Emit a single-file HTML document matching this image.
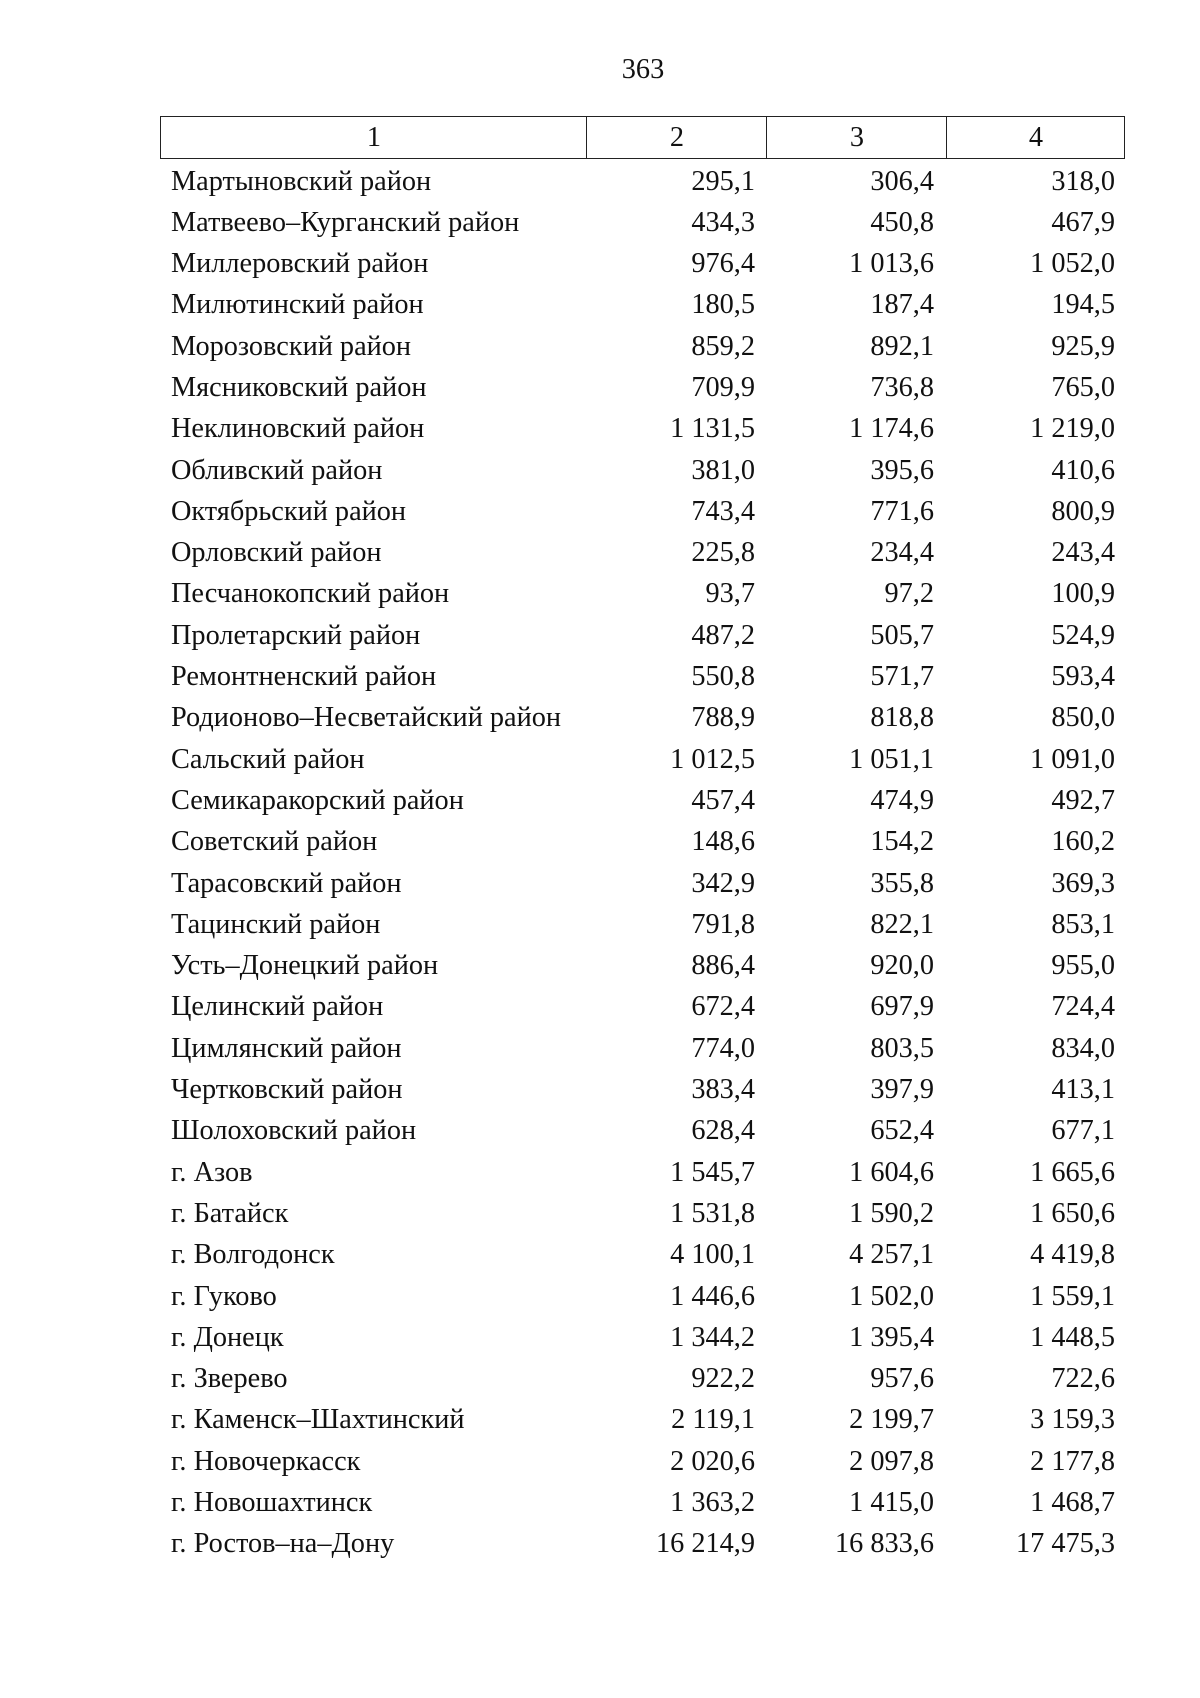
<!DOCTYPE html>
<html>
<head>
<meta charset="utf-8">
<style>
  html, body { margin: 0; padding: 0; background: #fff; }
  body { width: 1200px; height: 1698px; position: relative; overflow: hidden;
         font-family: "Liberation Serif", "Noto Serif CJK SC", serif; font-size: 28.3px; color: #111; }
  .pn { position: absolute; left: 543px; width: 200px; text-align: center; top: 49px; height: 41.33px; line-height: 41.33px; }
  .hdr { position: absolute; top: 116px; left: 160px; width: 965px; height: 43px; border: 1px solid #222; box-sizing: border-box; }
  .hc { position: absolute; top: 0; height: 41px; line-height: 42px; text-align: center; }
  .vl { position: absolute; top: 0; width: 1px; height: 41px; background: #222; }
  .rows { position: absolute; top: 160.5px; left: 0; width: 1200px; }
  .r { position: relative; height: 41.3px; line-height: 41.3px; white-space: pre; }
  .r span { position: absolute; top: 0; }
  .n { left: 171px; }
  .a { right: 445px; }
  .b { right: 266px; }
  .c { right: 85px; }
</style>
</head>
<body>
<div class="pn">363</div>
<div class="hdr">
  <div class="hc" style="left:0;width:426px;">1</div>
  <div class="vl" style="left:425px;"></div>
  <div class="hc" style="left:426px;width:180px;">2</div>
  <div class="vl" style="left:605px;"></div>
  <div class="hc" style="left:606px;width:180px;">3</div>
  <div class="vl" style="left:785px;"></div>
  <div class="hc" style="left:786px;width:178px;">4</div>
</div>
<div class="rows">
<div class="r"><span class="n">Мартыновский район</span><span class="a">295,1</span><span class="b">306,4</span><span class="c">318,0</span></div>
<div class="r"><span class="n">Матвеево–Курганский район</span><span class="a">434,3</span><span class="b">450,8</span><span class="c">467,9</span></div>
<div class="r"><span class="n">Миллеровский район</span><span class="a">976,4</span><span class="b">1 013,6</span><span class="c">1 052,0</span></div>
<div class="r"><span class="n">Милютинский район</span><span class="a">180,5</span><span class="b">187,4</span><span class="c">194,5</span></div>
<div class="r"><span class="n">Морозовский район</span><span class="a">859,2</span><span class="b">892,1</span><span class="c">925,9</span></div>
<div class="r"><span class="n">Мясниковский район</span><span class="a">709,9</span><span class="b">736,8</span><span class="c">765,0</span></div>
<div class="r"><span class="n">Неклиновский район</span><span class="a">1 131,5</span><span class="b">1 174,6</span><span class="c">1 219,0</span></div>
<div class="r"><span class="n">Обливский район</span><span class="a">381,0</span><span class="b">395,6</span><span class="c">410,6</span></div>
<div class="r"><span class="n">Октябрьский район</span><span class="a">743,4</span><span class="b">771,6</span><span class="c">800,9</span></div>
<div class="r"><span class="n">Орловский район</span><span class="a">225,8</span><span class="b">234,4</span><span class="c">243,4</span></div>
<div class="r"><span class="n">Песчанокопский район</span><span class="a">93,7</span><span class="b">97,2</span><span class="c">100,9</span></div>
<div class="r"><span class="n">Пролетарский район</span><span class="a">487,2</span><span class="b">505,7</span><span class="c">524,9</span></div>
<div class="r"><span class="n">Ремонтненский район</span><span class="a">550,8</span><span class="b">571,7</span><span class="c">593,4</span></div>
<div class="r"><span class="n">Родионово–Несветайский район</span><span class="a">788,9</span><span class="b">818,8</span><span class="c">850,0</span></div>
<div class="r"><span class="n">Сальский район</span><span class="a">1 012,5</span><span class="b">1 051,1</span><span class="c">1 091,0</span></div>
<div class="r"><span class="n">Семикаракорский район</span><span class="a">457,4</span><span class="b">474,9</span><span class="c">492,7</span></div>
<div class="r"><span class="n">Советский район</span><span class="a">148,6</span><span class="b">154,2</span><span class="c">160,2</span></div>
<div class="r"><span class="n">Тарасовский район</span><span class="a">342,9</span><span class="b">355,8</span><span class="c">369,3</span></div>
<div class="r"><span class="n">Тацинский район</span><span class="a">791,8</span><span class="b">822,1</span><span class="c">853,1</span></div>
<div class="r"><span class="n">Усть–Донецкий район</span><span class="a">886,4</span><span class="b">920,0</span><span class="c">955,0</span></div>
<div class="r"><span class="n">Целинский район</span><span class="a">672,4</span><span class="b">697,9</span><span class="c">724,4</span></div>
<div class="r"><span class="n">Цимлянский район</span><span class="a">774,0</span><span class="b">803,5</span><span class="c">834,0</span></div>
<div class="r"><span class="n">Чертковский район</span><span class="a">383,4</span><span class="b">397,9</span><span class="c">413,1</span></div>
<div class="r"><span class="n">Шолоховский район</span><span class="a">628,4</span><span class="b">652,4</span><span class="c">677,1</span></div>
<div class="r"><span class="n">г. Азов</span><span class="a">1 545,7</span><span class="b">1 604,6</span><span class="c">1 665,6</span></div>
<div class="r"><span class="n">г. Батайск</span><span class="a">1 531,8</span><span class="b">1 590,2</span><span class="c">1 650,6</span></div>
<div class="r"><span class="n">г. Волгодонск</span><span class="a">4 100,1</span><span class="b">4 257,1</span><span class="c">4 419,8</span></div>
<div class="r"><span class="n">г. Гуково</span><span class="a">1 446,6</span><span class="b">1 502,0</span><span class="c">1 559,1</span></div>
<div class="r"><span class="n">г. Донецк</span><span class="a">1 344,2</span><span class="b">1 395,4</span><span class="c">1 448,5</span></div>
<div class="r"><span class="n">г. Зверево</span><span class="a">922,2</span><span class="b">957,6</span><span class="c">722,6</span></div>
<div class="r"><span class="n">г. Каменск–Шахтинский</span><span class="a">2 119,1</span><span class="b">2 199,7</span><span class="c">3 159,3</span></div>
<div class="r"><span class="n">г. Новочеркасск</span><span class="a">2 020,6</span><span class="b">2 097,8</span><span class="c">2 177,8</span></div>
<div class="r"><span class="n">г. Новошахтинск</span><span class="a">1 363,2</span><span class="b">1 415,0</span><span class="c">1 468,7</span></div>
<div class="r"><span class="n">г. Ростов–на–Дону</span><span class="a">16 214,9</span><span class="b">16 833,6</span><span class="c">17 475,3</span></div>
</div>
</body>
</html>
